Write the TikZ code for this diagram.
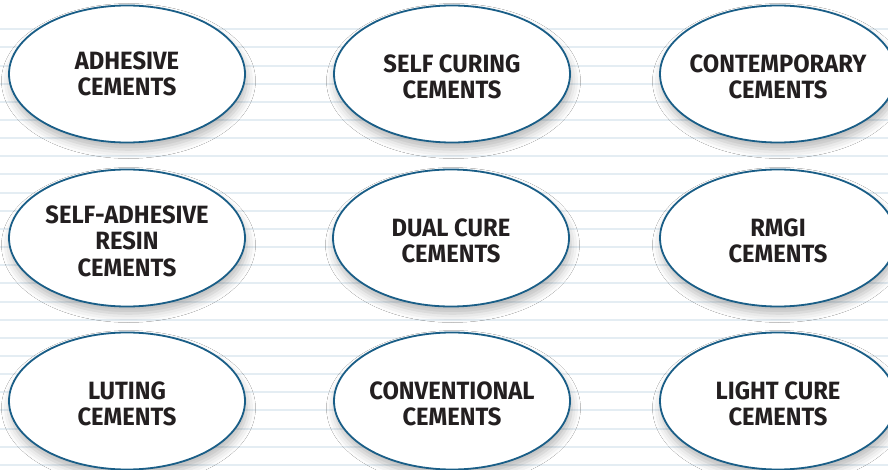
\documentclass[tikz,border=0pt]{standalone}
\usepackage{fontspec}
\setmainfont{Fira Sans}[FakeStretch=0.95]
\usetikzlibrary{shapes.geometric,shadows.blur}
\definecolor{rimblue}{RGB}{26,94,135}
\definecolor{ruleblue}{RGB}{228,237,243}
\definecolor{inkgray}{RGB}{35,31,32}
\newcommand{\lift}{\rule{0pt}{24pt}}

\begin{document}
\begin{tikzpicture}
        [x=1pt, y=-1pt,
        cement/.style={ellipse, draw=rimblue, line width=1.8pt, fill=white,
            minimum width=236pt, minimum height=137pt, inner xsep=-25pt, inner ysep=0pt,
            align=center, text=inkgray, font=\fontsize{25}{26.3}\selectfont\bfseries,
            blur shadow={shadow xshift=1.5pt, shadow yshift=-7pt, shadow blur radius=9pt, shadow opacity=28}},
        ruling/.style={ruleblue, line width=2pt}]

        \useasboundingbox[fill=white] (0,0) rectangle (888,470);

        % ruled background
        \foreach \k in {0,...,24}
            \draw[ruling] (0,{29.3+18.15*\k}) -- (888,{29.3+18.15*\k});

        % first row
        \node[cement] (adhesive) at (127,74) {ADHESIVE\\CEMENTS};
        \node[cement] (selfcure) at (452,74) {\lift SELF CURING\\CEMENTS};
        \node[cement] (contemp) at (778,74) {\lift CONTEMPORARY\\CEMENTS};

        % second row
        \node[cement] (selfadh) at (127,238) {\lift SELF-ADHESIVE\\RESIN\\CEMENTS};
        \node[cement] (dualcure) at (451,238) {\lift DUAL CURE\\CEMENTS};
        \node[cement] (rmgi) at (778,238) {\lift RMGI\\CEMENTS};

        % third row
        \node[cement] (luting) at (127,401) {\lift LUTING\\CEMENTS};
        \node[cement] (conv) at (452,401) {\lift CONVENTIONAL\\CEMENTS};
        \node[cement] (lightcure) at (778,401) {\lift LIGHT CURE\\CEMENTS};

    \end{tikzpicture}
\end{document}
